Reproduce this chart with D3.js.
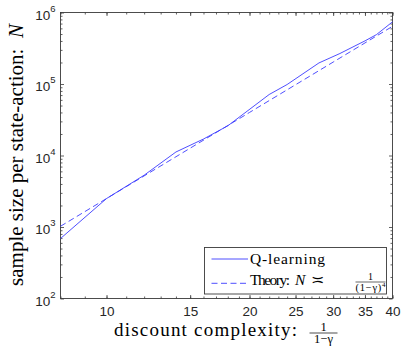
<!DOCTYPE html>
<html>
<head>
<meta charset="utf-8">
<script src="https://cdn.jsdelivr.net/npm/d3@7"></script>
<style>
  html, body { margin: 0; padding: 0; background: #fff; }
  svg { display: block; }
  .tick text { font-family: "Liberation Sans", Arial, Helvetica, sans-serif; fill: #262626; }
  .serif { font-family: "Liberation Serif", "Times New Roman", serif; fill: #000; }
</style>
</head>
<body>
<svg id="chart" width="401" height="349"></svg>
<script>
// Discount complexity 1/(1-gamma) and sample size per state-action pair
const qX = [8, 10, 12, 14, 16, 18, 22, 24, 28, 31, 35, 37, 40];
const qN = [690, 2500, 5300, 11200, 17000, 26000, 71300, 98400, 197000, 267000, 401000, 490000, 740000];

// Theoretical scaling N ~ 1/(1-gamma)^4
const theoryX = [8, 10, 15, 20, 25, 30, 35, 40];
const theoryN = [1024, 2500, 12656, 40000, 97656, 202500, 375156, 640000];

// Axis ticks
const xTickValues = [10, 15, 20, 25, 30, 35, 40];
const xMinorValues = d3.range(8, 41);
const yTickExponents = [2, 3, 4, 5, 6];

const svg = d3.select("#chart");
const plotLeft = 60.5, plotRight = 392.5, plotTop = 12.5, plotBottom = 298.5;
const lineColor = "#3b3bff";
const axisColor = "#3a3a3a";

const x = d3.scaleLog().domain([8, 40]).range([plotLeft, plotRight]);
const y = d3.scaleLog().domain([1e2, 1e6]).range([plotBottom, plotTop]);

const yMajor = yTickExponents.map(e => Math.pow(10, e));
const yMinor = [];
for (let e = 2; e < 6; e++) for (let m = 2; m <= 9; m++) yMinor.push(m * Math.pow(10, e));

function styleAxis(g) {
  g.select(".domain").remove();
  g.selectAll(".tick line").attr("stroke", axisColor).attr("stroke-width", 0.8);
}

// Minor ticks on all four sides
svg.append("g").attr("transform", `translate(0,${plotBottom})`)
  .call(d3.axisBottom(x).tickValues(xMinorValues).tickSize(-2).tickFormat(""))
  .call(styleAxis);
svg.append("g").attr("transform", `translate(0,${plotTop})`)
  .call(d3.axisTop(x).tickValues(xMinorValues).tickSize(-2).tickFormat(""))
  .call(styleAxis);
svg.append("g").attr("transform", `translate(${plotLeft},0)`)
  .call(d3.axisLeft(y).tickValues(yMinor).tickSize(-2).tickFormat(""))
  .call(styleAxis);
svg.append("g").attr("transform", `translate(${plotRight},0)`)
  .call(d3.axisRight(y).tickValues(yMinor).tickSize(-2).tickFormat(""))
  .call(styleAxis);

// Major ticks with labels
const xAxis = svg.append("g").attr("transform", `translate(0,${plotBottom})`)
  .call(d3.axisBottom(x).tickValues(xTickValues).tickSize(-3.5).tickPadding(7.5).tickFormat(d3.format("d")))
  .call(styleAxis);
xAxis.selectAll(".tick text").attr("font-size", 13.5);

svg.append("g").attr("transform", `translate(0,${plotTop})`)
  .call(d3.axisTop(x).tickValues(xTickValues).tickSize(-3.5).tickFormat(""))
  .call(styleAxis);

const yAxis = svg.append("g").attr("transform", `translate(${plotLeft},0)`)
  .call(d3.axisLeft(y).tickValues(yMajor).tickSize(-3.5).tickPadding(5).tickFormat(""))
  .call(styleAxis);
yAxis.selectAll(".tick text")
  .attr("font-size", 13.5)
  .attr("dy", "0.5em")
  .each(function(d) {
    const t = d3.select(this);
    t.text(null);
    t.append("tspan").text("10");
    t.append("tspan").attr("font-size", 9.5).attr("dy", -8).text(Math.round(Math.log10(d)));
  });

svg.append("g").attr("transform", `translate(${plotRight},0)`)
  .call(d3.axisRight(y).tickValues(yMajor).tickSize(-3.5).tickFormat(""))
  .call(styleAxis);

// Axes box
svg.append("rect")
  .attr("x", plotLeft).attr("y", plotTop)
  .attr("width", plotRight - plotLeft).attr("height", plotBottom - plotTop)
  .attr("fill", "none").attr("stroke", axisColor).attr("stroke-width", 0.9);

// Data lines
const line = d3.line().x(d => x(d[0])).y(d => y(d[1]));
svg.append("path")
  .datum(theoryX.map((v, i) => [v, theoryN[i]]))
  .attr("d", line).attr("fill", "none")
  .attr("stroke", lineColor).attr("stroke-width", 0.9)
  .attr("stroke-dasharray", "6,3.5");
svg.append("path")
  .datum(qX.map((v, i) => [v, qN[i]]))
  .attr("d", line).attr("fill", "none")
  .attr("stroke", lineColor).attr("stroke-width", 0.9);

// X axis title
svg.append("text").attr("class", "serif")
  .attr("x", 114).attr("y", 335.5).attr("font-size", 19)
  .attr("textLength", 183).attr("lengthAdjust", "spacing")
  .text("discount complexity:");
svg.append("text").attr("class", "serif")
  .attr("x", 323.5).attr("y", 330.5).attr("font-size", 12.5).attr("text-anchor", "middle")
  .text("1");
svg.append("line")
  .attr("x1", 309.5).attr("x2", 337.5).attr("y1", 333).attr("y2", 333)
  .attr("stroke", "#000").attr("stroke-width", 0.7);
svg.append("text").attr("class", "serif")
  .attr("x", 323.5).attr("y", 343).attr("font-size", 12.5).attr("text-anchor", "middle")
  .text("1\u2212\u03b3");

// Y axis title
const yTitle = svg.append("text").attr("class", "serif")
  .attr("transform", "translate(22.5,155) rotate(-90)")
  .attr("text-anchor", "middle").attr("font-size", 21);
yTitle.append("tspan").text("sample size per state-action:\u2002");
yTitle.append("tspan").attr("font-style", "italic").text("N");

// Legend
const lg = svg.append("g");
lg.append("rect")
  .attr("x", 204.5).attr("y", 247.5).attr("width", 182).attr("height", 46.5)
  .attr("fill", "#fff").attr("stroke", axisColor).attr("stroke-width", 0.9);
lg.append("line")
  .attr("x1", 211.5).attr("x2", 248).attr("y1", 259).attr("y2", 259)
  .attr("stroke", lineColor).attr("stroke-width", 0.9);
lg.append("text").attr("class", "serif")
  .attr("x", 250).attr("y", 263.5).attr("font-size", 15.5)
  .attr("textLength", 75).attr("lengthAdjust", "spacing")
  .text("Q-learning");
lg.append("line")
  .attr("x1", 211.5).attr("x2", 248).attr("y1", 283.3).attr("y2", 283.3)
  .attr("stroke", lineColor).attr("stroke-width", 0.9)
  .attr("stroke-dasharray", "6,3.5");
lg.append("text").attr("class", "serif")
  .attr("x", 250).attr("y", 285).attr("font-size", 15.5)
  .attr("textLength", 40).attr("lengthAdjust", "spacing")
  .text("Theory:");
lg.append("text").attr("class", "serif")
  .attr("x", 295).attr("y", 285).attr("font-size", 15.5).attr("font-style", "italic")
  .text("N");
lg.append("text").attr("class", "serif")
  .attr("x", 317.5).attr("y", 285).attr("font-size", 15.5).attr("text-anchor", "middle")
  .text("\u224d");
lg.append("text").attr("class", "serif")
  .attr("x", 370.5).attr("y", 280).attr("font-size", 10).attr("text-anchor", "middle")
  .text("1");
lg.append("line")
  .attr("x1", 355.5).attr("x2", 385.5).attr("y1", 282).attr("y2", 282)
  .attr("stroke", "#000").attr("stroke-width", 0.6);
const den = lg.append("text").attr("class", "serif")
  .attr("x", 355.5).attr("y", 290.5).attr("font-size", 10.5)
  .attr("textLength", 30).attr("lengthAdjust", "spacing");
den.append("tspan").text("(1\u2212\u03b3)");
den.append("tspan").attr("font-size", 7).attr("dy", -4).text("4");
</script>
</body>
</html>
